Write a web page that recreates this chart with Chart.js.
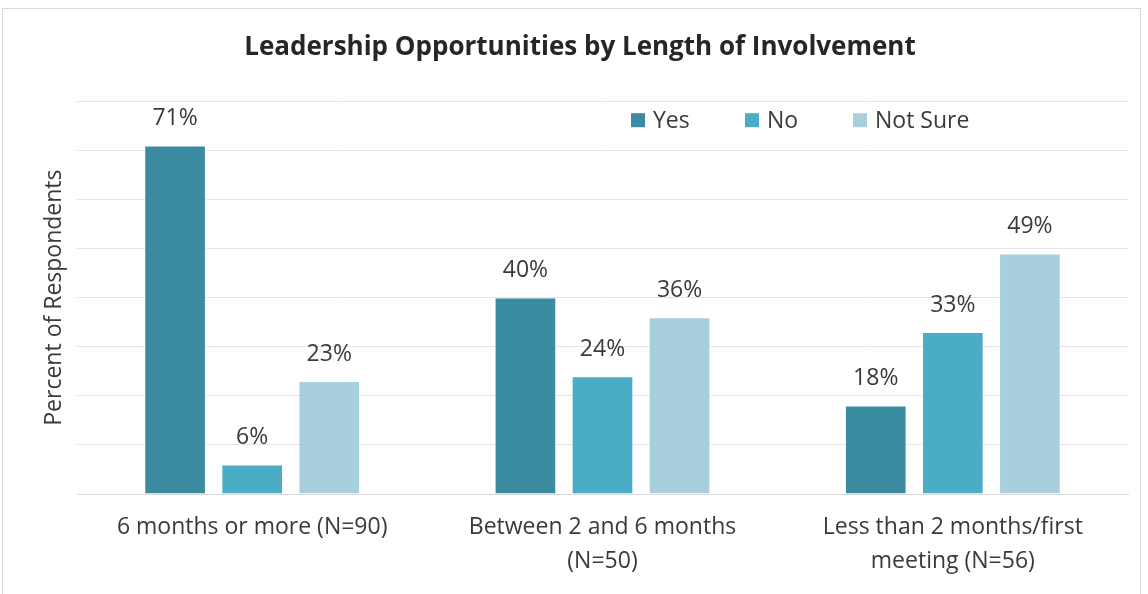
<!DOCTYPE html>
<html>
<head>
<meta charset="utf-8">
<script src="https://cdn.jsdelivr.net/npm/chart.js@4/dist/chart.umd.min.js"></script>
<style>
	html, body { margin: 0; padding: 0; background: #fff; }
	#wrap { position: relative; width: 1148px; height: 594px; }
	#frame { position: absolute; left: 2px; top: 8px; width: 1137px; height: 600px; border: 1px solid #d9d9d9; }
	canvas { position: absolute; left: 0; top: 0; }
</style>
</head>
<body>
<div id="wrap">
	<div id="frame"></div>
	<canvas id="chart" width="1148" height="594"></canvas>
</div>
<script>
const categories = [
	['6 months or more (N=90)'],
	['Between 2 and 6 months', '(N=50)'],
	['Less than 2 months/first', 'meeting (N=56)'],
];
const seriesNames = ['Yes', 'No', 'Not Sure'];
const yesValues = [71, 40, 18];
const noValues = [6, 24, 33];
const notSureValues = [23, 36, 49];
const colors = ['#3b8ba1', '#4bacc6', '#a8cfdd'];

const FONT = "'Open Sans', sans-serif";
const TEXT = '#3a3a3a';

// 棒の上に値を描く
const valueLabels = {
	id: 'valueLabels',
	afterDatasetsDraw(chart) {
		const ctx = chart.ctx;
		ctx.save();
		ctx.font = `23px ${FONT}`;
		ctx.fillStyle = TEXT;
		ctx.textAlign = 'center';
		ctx.textBaseline = 'middle';
		chart.data.datasets.forEach((ds, i) => {
			chart.getDatasetMeta(i).data.forEach((bar, j) => {
				ctx.fillText(ds.data[j] + '%', bar.x, bar.y - 27);
			});
		});
		ctx.restore();
	}
};

// 凡例をプロット内の右上に描く
const innerLegend = {
	id: 'innerLegend',
	afterDraw(chart) {
		const ctx = chart.ctx;
		const area = chart.chartArea;
		const y = area.top + 19;
		const gaps = [0, 114, 222];
		ctx.save();
		ctx.font = `23px ${FONT}`;
		ctx.textBaseline = 'middle';
		chart.data.datasets.forEach((ds, i) => {
			const x = area.left + 554 + gaps[i];
			ctx.fillStyle = ds.backgroundColor;
			ctx.fillRect(x, y - 7, 14, 14);
			ctx.fillStyle = TEXT;
			ctx.fillText(ds.label, x + 22, y + 1);
		});
		ctx.restore();
	}
};

function renderChart() {
	const ctx = document.getElementById('chart').getContext('2d');
	const values = [yesValues, noValues, notSureValues];

	new Chart(ctx, {
		type: 'bar',
		data: {
			labels: categories,
			datasets: seriesNames.map((name, i) => ({
				label: name,
				data: values[i],
				backgroundColor: colors[i],
				borderColor: 'rgba(255,255,255,0.35)',
				borderWidth: 1,
				categoryPercentage: 0.66,
				barPercentage: 0.8,
			})),
		},
		options: {
			responsive: false,
			animation: false,
			layout: { padding: { left: 32, right: 20, top: 0, bottom: 0 } },
			plugins: {
				legend: { display: false },
				tooltip: { enabled: false },
				title: {
					display: true,
					text: 'Leadership Opportunities by Length of Involvement',
					color: '#262626',
					font: { family: FONT, size: 26, weight: 'bold' },
					padding: { top: 32, bottom: 38 },
				},
			},
			scales: {
				x: {
					grid: { display: false, drawTicks: false },
					border: { color: '#d9d9d9', width: 1 },
					ticks: {
						color: TEXT,
						padding: 16,
						maxRotation: 0,
						font: { family: FONT, size: 23, lineHeight: 1.48 },
					},
					afterFit(scale) { scale.height = 100; },
				},
				y: {
					min: 0,
					max: 80,
					ticks: { display: false, stepSize: 10 },
					grid: { color: '#e4e4e4', drawTicks: false },
					border: { display: false },
					title: {
						display: true,
						text: 'Percent of Respondents',
						color: TEXT,
						font: { family: FONT, size: 23 },
						padding: { top: 9, bottom: 0 },
					},
					afterFit(scale) { scale.width = 45; },
				},
			},
		},
		plugins: [valueLabels, innerLegend],
	});
}

renderChart();
</script>
</body>
</html>
